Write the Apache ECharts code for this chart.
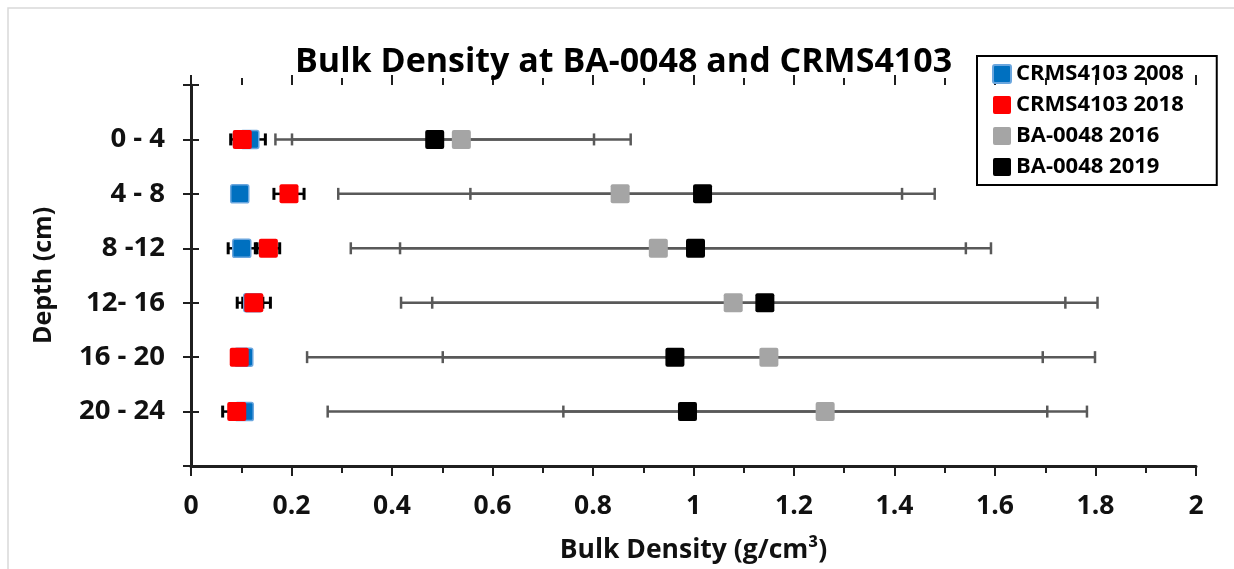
<!DOCTYPE html>
<html>
<head>
<meta charset="utf-8">
<title>Bulk Density at BA-0048 and CRMS4103</title>
<script src="https://cdn.jsdelivr.net/npm/echarts@6/dist/echarts.min.js"></script>
<style>
  html, body { margin: 0; padding: 0; background: #ffffff; }
  #chart { width: 1234px; height: 569px; }
</style>
</head>
<body>
<div id="chart"></div>
<script>
// Depth intervals (y positions 1..6, top to bottom)
const depthLabels = ['0 - 4', '4 - 8', '8 -12', '12- 16', '16 - 20', '20 - 24'];
const depthPos = [1, 2, 3, 4, 5, 6];

// Bulk density (g/cm3) and error half-widths per depth interval
const crms2008 = [0.117, 0.097, 0.101, 0.123, 0.105, 0.106];
const crms2008Err = [0.031, 0.010, 0.027, 0.020, 0.010, 0.010];
const crms2018 = [0.102, 0.195, 0.154, 0.125, 0.096, 0.091];
const crms2018Err = [0.023, 0.030, 0.0225, 0.033, 0.012, 0.028];
const ba2016 = [0.538, 0.854, 0.930, 1.079, 1.150, 1.262];
const ba2016Err = [0.337, 0.561, 0.612, 0.661, 0.649, 0.521];
const ba2019 = [0.485, 1.018, 1.004, 1.142, 0.963, 0.988];
const ba2019Err = [0.317, 0.462, 0.588, 0.662, 0.732, 0.716];

const xTicks = { min: 0, max: 2, interval: 0.2 };

const FONT = 'Open Sans';
const squarePath = 'path://M2,0H17Q19,0,19,2V17Q19,19,17,19H2Q0,19,0,17V2Q0,0,2,0Z';

function points(vals) {
  return vals.map((v, i) => [v, depthPos[i]]);
}
function errPoints(vals, errs) {
  return vals.map((v, i) => [v, depthPos[i], errs[i]]);
}

// Horizontal error bar with end caps
function errorBar(color, lineW, capW) {
  return function (params, api) {
    const x = api.value(0), y = api.value(1), e = api.value(2);
    const lo = api.coord([x - e, y]);
    const hi = api.coord([x + e, y]);
    const h = 6;
    return {
      type: 'group',
      children: [
        { type: 'line', shape: { x1: lo[0], y1: lo[1], x2: hi[0], y2: hi[1] }, style: { stroke: color, lineWidth: lineW } },
        { type: 'line', shape: { x1: lo[0], y1: lo[1] - h, x2: lo[0], y2: lo[1] + h }, style: { stroke: color, lineWidth: capW } },
        { type: 'line', shape: { x1: hi[0], y1: hi[1] - h, x2: hi[0], y2: hi[1] + h }, style: { stroke: color, lineWidth: capW } }
      ]
    };
  };
}

function errSeries(name, vals, errs, color, lineW, capW) {
  return {
    name: name,
    type: 'custom',
    xAxisIndex: 0,
    yAxisIndex: 0,
    renderItem: errorBar(color, lineW, capW),
    encode: { x: 0, y: 1 },
    data: errPoints(vals, errs),
    z: 2,
    silent: true
  };
}

function markerSeries(name, vals, color, extra) {
  return Object.assign({
    name: name,
    type: 'scatter',
    xAxisIndex: 0,
    yAxisIndex: 0,
    symbol: squarePath,
    symbolSize: 19,
    itemStyle: { color: color, opacity: 1 },
    data: points(vals),
    z: 3
  }, extra || {});
}

const axisColor = '#1f1f1f';
const tickFont = { fontFamily: FONT, fontWeight: 'bold', color: '#111' };

const baseX = {
  type: 'value',
  min: xTicks.min,
  max: xTicks.max,
  interval: xTicks.interval,
  position: 'bottom',
  gridIndex: 0,
  splitLine: { show: false }
};
const baseY = {
  type: 'value',
  min: 0,
  max: 7,
  interval: 1,
  inverse: true,
  position: 'left',
  gridIndex: 0,
  splitLine: { show: false }
};

const chart = echarts.init(document.getElementById('chart'), null, { renderer: 'canvas' });

chart.setOption({
  animation: false,
  backgroundColor: '#ffffff',
  title: {
    text: 'Bulk Density at BA-0048 and CRMS4103',
    left: 295,
    top: 45,
    padding: 0,
    textStyle: { fontFamily: FONT, fontWeight: 'bold', fontSize: 34, color: '#000' }
  },
  legend: {
    orient: 'vertical',
    left: 977,
    top: 56,
    padding: [7, 33, 7, 15],
    itemWidth: 18,
    itemHeight: 18,
    itemGap: 9,
    borderColor: '#000',
    borderWidth: 2,
    borderRadius: 0,
    data: ['CRMS4103 2008', 'CRMS4103 2018', 'BA-0048 2016', 'BA-0048 2019'],
    textStyle: { fontFamily: FONT, fontWeight: 'bold', fontSize: 22, color: '#000' }
  },
  grid: { left: 191, right: 38, top: 85, bottom: 99, containLabel: false },
  xAxis: [
    Object.assign({}, baseX, {
      name: 'Bulk Density (g/cm³)',
      nameLocation: 'middle',
      nameGap: 71,
      nameTextStyle: { fontFamily: FONT, fontWeight: 'bold', fontSize: 26.5, color: '#111' },
      axisLine: { show: true, onZero: false, lineStyle: { color: axisColor, width: 3 } },
      axisTick: { show: true, inside: false, length: 10, lineStyle: { color: axisColor, width: 2 } },
      minorTick: { show: true, splitNumber: 2, length: 7, lineStyle: { color: axisColor, width: 2 } },
      axisLabel: Object.assign({ margin: 27, fontSize: 26.5 }, tickFont)
    }),
    Object.assign({}, baseX, {
      axisLine: { show: false },
      axisLabel: { show: false },
      axisTick: { show: true, inside: true, length: 10, lineStyle: { color: axisColor, width: 2 } },
      minorTick: { show: true, splitNumber: 2, length: 7, lineStyle: { color: axisColor, width: 2 } }
    })
  ],
  yAxis: [
    Object.assign({}, baseY, {
      name: 'Depth (cm)',
      nameLocation: 'middle',
      nameGap: 135,
      nameRotate: 90,
      nameTextStyle: { fontFamily: FONT, fontWeight: 'bold', fontSize: 25, color: '#111' },
      axisLine: { show: true, onZero: false, lineStyle: { color: axisColor, width: 3 } },
      axisTick: { show: true, inside: false, length: 8, lineStyle: { color: axisColor, width: 2 } },
      axisLabel: Object.assign({
        margin: 26,
        fontSize: 27.5,
        formatter: function (v) { return depthLabels[v - 1] || ''; }
      }, tickFont)
    }),
    Object.assign({}, baseY, {
      axisLine: { show: false },
      axisLabel: { show: false },
      axisTick: { show: true, inside: true, length: 8, lineStyle: { color: axisColor, width: 2 } }
    })
  ],
  graphic: [
    {
      type: 'rect',
      silent: true,
      z: -10,
      shape: { x: 8, y: 8, width: 1240, height: 600 },
      style: { fill: 'none', stroke: '#d9d9d9', lineWidth: 1.5 }
    }
  ],
  series: [
    errSeries('BA-0048 2016 error', ba2016, ba2016Err, '#595959', 2.5, 2.5),
    errSeries('BA-0048 2019 error', ba2019, ba2019Err, '#595959', 2.5, 2.5),
    errSeries('CRMS4103 2008 error', crms2008, crms2008Err, '#000000', 2.5, 3),
    errSeries('CRMS4103 2018 error', crms2018, crms2018Err, '#000000', 2.5, 3),
    markerSeries('CRMS4103 2008', crms2008, '#0070C0', {
      symbolSize: 18,
      itemStyle: { color: '#0070C0', borderColor: '#6AA6DE', borderWidth: 1.5, opacity: 1 }
    }),
    markerSeries('CRMS4103 2018', crms2018, '#FF0000'),
    markerSeries('BA-0048 2016', ba2016, '#A5A5A5'),
    markerSeries('BA-0048 2019', ba2019, '#000000')
  ]
});
</script>
</body>
</html>
